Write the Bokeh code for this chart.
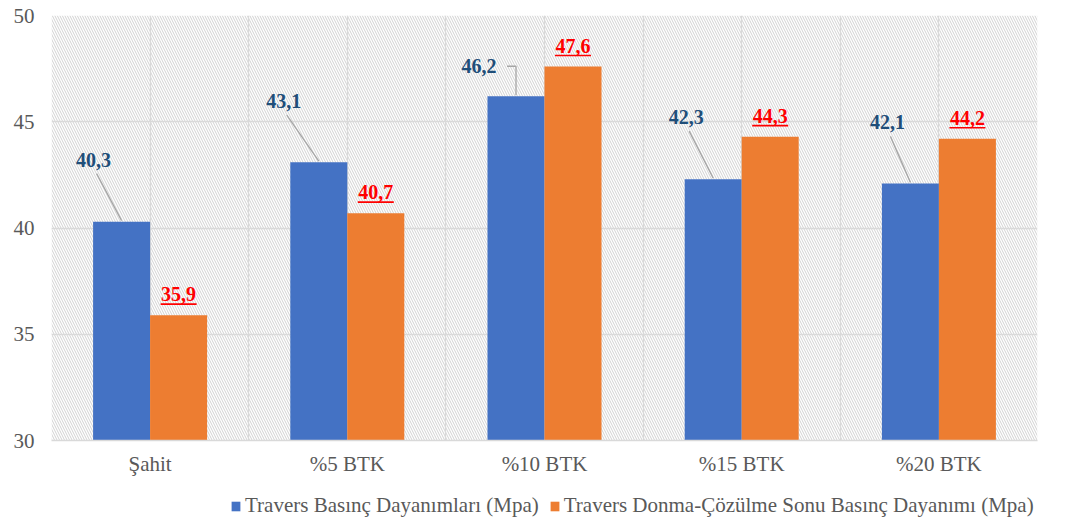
from bokeh.plotting import figure
from bokeh.layouts import column
from bokeh.models import FixedTicker, Legend, LegendItem, Range1d, BoxAnnotation
from bokeh.core.properties import value
from bokeh.embed import file_html
from bokeh.resources import INLINE

# ---- data -------------------------------------------------------------
categories = ["Şahit", "%5 BTK", "%10 BTK", "%15 BTK", "%20 BTK"]
basinc = [40.3, 43.1, 46.2, 42.3, 42.1]          # Travers basınç dayanımı
donma = [35.9, 40.7, 47.6, 44.3, 44.2]           # donma-çözülme sonrası
series_names = [
    "Travers Basınç Dayanımları (Mpa)",
    "Travers Donma-Çözülme Sonu Basınç Dayanımı (Mpa)",
]
y_ticks = [30, 35, 40, 45, 50]

# ---- styling ----------------------------------------------------------
BLUE, ORANGE = "#4472C4", "#ED7D31"
BLUE_TXT, RED_TXT = "#1F4E79", "#FF0000"
GRID = "#d9d9d9"
AXIS_TXT = "#595959"
FONT_NAME = "Liberation Serif"
FONT = value(FONT_NAME)

W, H = 1089, 522
B_LEFT, B_RIGHT, B_TOP = 51, 52, 15
FRAME_W, FRAME_H = 986, 425
N = len(categories)
Y0, Y1 = y_ticks[0], y_ticks[-1]
PX_X = FRAME_W / N            # pixels per category
PX_Y = FRAME_H / (Y1 - Y0)    # pixels per value unit
BAR_W = 57 / PX_X

# label placement for the blue series (pixel offsets from the bar top), and leader type
blue_label_offsets = [(-28, -62), (-35, -61), (-37, -30), (-27, -62), (-23, -61)]
blue_leader_kind = ["diag", "diag", "elbow", "diag", "diag"]


def fmt(v):
    return f"{v:.1f}".replace(".", ",")


p = figure(
    frame_width=FRAME_W, frame_height=FRAME_H,
    output_backend="svg", toolbar_location=None,
    x_range=Range1d(0, N), y_range=Range1d(Y0, Y1),
    min_border_left=B_LEFT, min_border_right=B_RIGHT,
    min_border_top=B_TOP, min_border_bottom=0,
    outline_line_color=None, background_fill_color="white",
)

# hatched plot area behind the grid
p.add_layout(BoxAnnotation(
    level="image", fill_color="white", fill_alpha=1.0, line_color=None,
    hatch_pattern="\\", hatch_color="#cccccc", hatch_scale=5, hatch_weight=0.9,
))

# grid
p.xgrid.ticker = FixedTicker(ticks=[i * 0.5 for i in range(2 * N + 1)])
p.ygrid.ticker = FixedTicker(ticks=y_ticks)
for g in (p.xgrid, p.ygrid):
    g.grid_line_color = GRID
    g.grid_line_width = 1.3

# axes
centers = [i + 0.5 for i in range(N)]
p.xaxis.ticker = FixedTicker(ticks=centers)
p.xaxis.major_label_overrides = {c: name for c, name in zip(centers, categories)}
p.yaxis.ticker = FixedTicker(ticks=y_ticks)
for ax in (p.xaxis[0], p.yaxis[0]):
    ax.major_tick_line_color = None
    ax.minor_tick_line_color = None
    ax.major_tick_out = 0
    ax.major_tick_in = 0
    ax.major_label_text_font = FONT_NAME
    ax.major_label_text_font_size = "21px"
    ax.major_label_text_color = AXIS_TXT
p.xaxis.axis_line_color = GRID
p.xaxis.axis_line_width = 1.3
p.xaxis.major_label_standoff = 11
p.yaxis.axis_line_color = None
p.yaxis.major_label_standoff = 17

# bars
x_blue = [c - BAR_W / 2 for c in centers]
x_orange = [c + BAR_W / 2 for c in centers]
p.vbar(x=x_blue, top=basinc, bottom=Y0, width=BAR_W, fill_color=BLUE, line_color=None)
p.vbar(x=x_orange, top=donma, bottom=Y0, width=BAR_W, fill_color=ORANGE, line_color=None)

# blue value labels with leader lines
lab_x, lab_y = [], []
seg_xs, seg_ys = [], []
for xb, top, (dx, dy), kind in zip(x_blue, basinc, blue_label_offsets, blue_leader_kind):
    lx = xb + dx / PX_X
    ly = top - dy / PX_Y
    lab_x.append(lx)
    lab_y.append(ly)
    if kind == "diag":
        seg_xs.append([lx + 3 / PX_X, xb])
        seg_ys.append([ly - 14 / PX_Y, top + 1 / PX_Y])
    else:
        sx = lx + 28 / PX_X
        seg_xs.append([sx, xb, xb])
        seg_ys.append([ly, ly, top + 1 / PX_Y])
p.multi_line(xs=seg_xs, ys=seg_ys, line_color="#a6a6a6", line_width=1.3)
p.text(x=lab_x, y=lab_y, text=[fmt(v) for v in basinc],
       text_font=FONT, text_font_style="bold", text_font_size="20px",
       text_color=BLUE_TXT, text_align="center", text_baseline="middle")

# orange value labels: red, bold, underlined
p.text(x=x_orange, y=[t + 21 / PX_Y for t in donma], text=[fmt(v) for v in donma],
       text_font=FONT, text_font_style="bold", text_font_size="20px",
       text_color=RED_TXT, text_align="center", text_baseline="middle")
ul_half = 18 / PX_X
p.segment(x0=[x - ul_half for x in x_orange], x1=[x + ul_half for x in x_orange],
          y0=[t + 11 / PX_Y for t in donma], y1=[t + 11 / PX_Y for t in donma],
          line_color=RED_TXT, line_width=1.6)

# legend strip beneath the chart (its frame lines up with the chart frame)
LEG_H = 46
q = figure(
    width=W, height=LEG_H, output_backend="svg", toolbar_location=None,
    x_range=Range1d(0, 1), y_range=Range1d(0, 1),
    x_axis_type=None, y_axis_type=None,
    min_border_left=B_LEFT, min_border_right=B_RIGHT, min_border_top=0, min_border_bottom=0,
    outline_line_color=None, background_fill_color="white",
)
# zero-height key renderers: they only supply the legend swatches
k_blue = q.vbar(x=[0.5], top=[0], bottom=0, width=0.1, fill_color=BLUE, line_color=None)
k_orange = q.vbar(x=[0.5], top=[0], bottom=0, width=0.1, fill_color=ORANGE, line_color=None)
legend = Legend(
    items=[LegendItem(label=series_names[0], renderers=[k_blue]),
           LegendItem(label=series_names[1], renderers=[k_orange])],
    orientation="horizontal", location=(179, 6),
    glyph_width=11, glyph_height=12, label_standoff=4, spacing=10,
    padding=0, margin=0, border_line_color=None, background_fill_alpha=0,
    label_text_font=FONT_NAME, label_text_font_size="21px", label_text_color=AXIS_TXT,
)
q.add_layout(legend)

layout = column(p, q, spacing=0)
open("out.html", "w").write(file_html(layout, INLINE))
